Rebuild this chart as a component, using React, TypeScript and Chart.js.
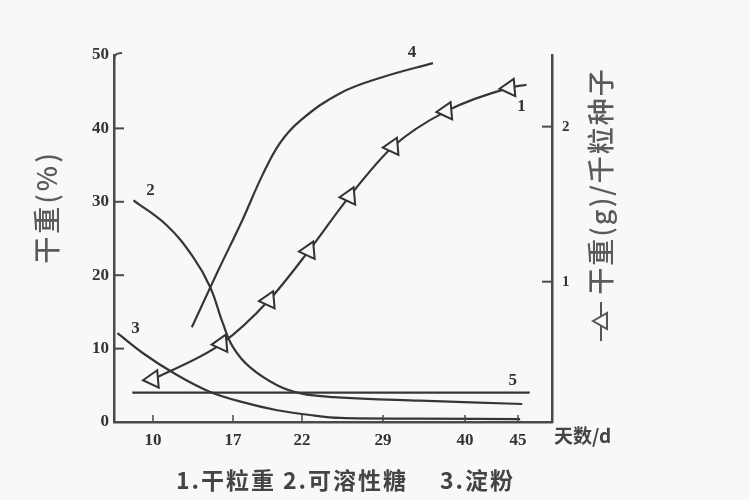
import React, { useEffect, useRef } from 'react';
import { Chart, registerables, LinearScale } from 'chart.js';

// ---- x axis (days) ----
const xTickDays = [10, 17, 22, 29, 40, 45];
const xTickLabels = ['10', '17', '22', '29', '40', '45'];
// the printed axis is not evenly spaced: day breakpoints and their share of the axis length
const axisDays = [6.6, 10, 17, 22, 29, 40, 45, 48.2];
const axisShare = [0, 0.089, 0.2717, 0.4292, 0.6142, 0.8014, 0.9224, 1];

// ---- left axis (%) ----
const leftTicks = [0, 10, 20, 30, 40, 50];
// ---- right axis (g / 1000 seeds) ----
const rightTicks = [1, 2];

// 1. 干粒重 (right axis)
const seedDays = [10, 16.0, 19.6, 22.6, 26.1, 30.3, 37.5, 44.2, 45.8];
const seedWeight = [0.37, 0.6, 0.88, 1.2, 1.55, 1.87, 2.1, 2.25, 2.27];
const seedMarker = [1, 1, 1, 1, 1, 1, 1, 1, 0];

// 2. 可溶性糖 (left axis)
const sugarDays = [8.3, 11.2, 13.5, 15.0, 16.1, 17.0, 18.2, 20.2, 21.9, 24.7, 34.0, 45.4];
const sugarValues = [30.2, 26.8, 22.5, 18.4, 13.5, 10.2, 7.5, 5.0, 3.9, 3.4, 2.9, 2.45];

// 3. 淀粉 (left axis)
const starchDays = [6.9, 9.1, 12.1, 15.0, 17.7, 20.2, 22.7, 25.3, 33.0, 45.2];
const starchValues = [12.1, 9.4, 6.4, 4.1, 2.7, 1.6, 0.95, 0.55, 0.45, 0.4];

// 4. (left axis)
const curve4Days = [13.4, 15.6, 17.7, 19.1, 20.4, 21.9, 25.3, 29.0, 35.7];
const curve4Values = [12.9, 20.3, 27.6, 33.5, 38.0, 41.1, 44.8, 47.0, 48.9];

// 5. (left axis)
const curve5Days = [8.2, 46.1];
const curve5Values = [4.0, 4.0];

const captionParts = ['1.干粒重', '2.可溶性糖', '3.淀粉'];

const BG = '#f8f8f6';
const INK = '#363636';
const AXIS = '#4a4a4a';
const TEXT = '#333';

class SegmentScale extends LinearScale {
  static id = 'segment';
  static defaults = LinearScale.defaults;

  buildTicks() {
    this.start = this.min;
    this.end = this.max;
    return xTickDays.map((v) => ({ value: v }));
  }

  dayToShare(v: number) {
    const n = axisDays.length;
    if (v <= axisDays[0]) {
      const k = (axisShare[1] - axisShare[0]) / (axisDays[1] - axisDays[0]);
      return axisShare[0] + (v - axisDays[0]) * k;
    }
    for (let i = 0; i < n - 1; i++) {
      if (v <= axisDays[i + 1]) {
        const t = (v - axisDays[i]) / (axisDays[i + 1] - axisDays[i]);
        return axisShare[i] + t * (axisShare[i + 1] - axisShare[i]);
      }
    }
    const k = (axisShare[n - 1] - axisShare[n - 2]) / (axisDays[n - 1] - axisDays[n - 2]);
    return axisShare[n - 1] + (v - axisDays[n - 1]) * k;
  }

  getPixelForValue(value: number) {
    return this.getPixelForDecimal(this.dayToShare(value));
  }

  getValueForPixel(pixel: number) {
    const d = this.getDecimalForPixel(pixel);
    for (let i = 0; i < axisShare.length - 1; i++) {
      if (d <= axisShare[i + 1]) {
        const t = (d - axisShare[i]) / (axisShare[i + 1] - axisShare[i]);
        return axisDays[i] + t * (axisDays[i + 1] - axisDays[i]);
      }
    }
    return axisDays[axisDays.length - 1];
  }
}

Chart.register(...registerables, SegmentScale);

const toPoints = (xs: number[], ys: number[]) => xs.map((x, i) => ({ x, y: ys[i] }));

function drawLine(ctx: CanvasRenderingContext2D, x1: number, y1: number, x2: number, y2: number) {
  ctx.beginPath();
  ctx.moveTo(x1, y1);
  ctx.lineTo(x2, y2);
  ctx.stroke();
}

const decor = {
  id: 'decor',
  beforeDraw(chart: any) {
    const { ctx, width, height } = chart;
    ctx.save();
    ctx.fillStyle = BG;
    ctx.fillRect(0, 0, width, height);
    ctx.restore();
  },
  afterDraw(chart: any) {
    const { ctx, chartArea, scales } = chart;
    const { x, y, y1 } = scales;
    ctx.save();
    ctx.strokeStyle = AXIS;
    ctx.lineWidth = 2;
    // inward tick marks
    leftTicks.forEach((v) => {
      if (v <= 0 || v >= 50) return;
      const py = y.getPixelForValue(v);
      drawLine(ctx, chartArea.left, py, chartArea.left + 10, py);
    });
    rightTicks.forEach((v) => {
      const py = y1.getPixelForValue(v);
      drawLine(ctx, chartArea.right, py, chartArea.right - 10, py);
    });
    ctx.lineWidth = 1.5;
    xTickDays.forEach((v) => {
      const px = x.getPixelForValue(v);
      drawLine(ctx, px, chartArea.bottom, px, chartArea.bottom - 7);
    });
    // little hook at top of left axis
    ctx.lineWidth = 2;
    ctx.beginPath();
    ctx.moveTo(chartArea.left, chartArea.top + 4);
    ctx.quadraticCurveTo(chartArea.left, chartArea.top - 2, chartArea.left + 8, chartArea.top - 2);
    ctx.stroke();

    // curve number labels, anchored on the data
    const pt = (ds: number, idx: number) => chart.getDatasetMeta(ds).data[idx];
    ctx.fillStyle = TEXT;
    ctx.font = 'bold 17px "Liberation Serif"';
    ctx.textAlign = 'center';
    ctx.textBaseline = 'middle';
    const p1 = pt(0, seedDays.length - 2);
    ctx.fillText('1', p1.x + 12, p1.y + 19);
    const p2 = pt(1, 0);
    ctx.fillText('2', p2.x + 17, p2.y - 10);
    const p3 = pt(2, 0);
    ctx.fillText('3', p3.x + 18, p3.y - 5);
    const p4 = pt(3, curve4Days.length - 1);
    ctx.fillText('4', p4.x - 21, p4.y - 10);
    const p5 = pt(4, curve5Days.length - 1);
    ctx.fillText('5', p5.x - 17, p5.y - 12);

    // x unit
    ctx.textAlign = 'left';
    ctx.font = 'bold 19px "Noto Sans CJK SC"';
    ctx.fillStyle = '#444';
    ctx.fillText('天数/d', chartArea.right + 2, chartArea.bottom + 14);

    // caption
    ctx.font = 'bold 23px "Noto Sans CJK SC"';
    (ctx as any).letterSpacing = '2px';
    const capX = [176, 283, 440];
    captionParts.forEach((s, i) => ctx.fillText(s, capX[i], 480));

    // left title
    ctx.save();
    ctx.translate(47, 207);
    ctx.rotate(-Math.PI / 2);
    ctx.textAlign = 'center';
    ctx.font = '500 27px "Noto Sans CJK SC"';
    (ctx as any).letterSpacing = '3px';
    ctx.fillStyle = '#5a5a5a';
    ctx.fillText('干重(%)', 0, 0);
    ctx.restore();

    // right title
    ctx.save();
    ctx.translate(601, 181);
    ctx.rotate(-Math.PI / 2);
    ctx.textAlign = 'center';
    ctx.font = '500 27px "Noto Sans CJK SC"';
    (ctx as any).letterSpacing = '2px';
    ctx.fillStyle = '#5a5a5a';
    ctx.fillText('干重(g)/千粒种子', 0, 0);
    ctx.restore();
    // legend symbol —△— (rotated)
    ctx.strokeStyle = '#555';
    ctx.lineWidth = 2;
    drawLine(ctx, 601, 302, 601, 341);
    ctx.fillStyle = BG;
    ctx.beginPath();
    ctx.moveTo(593, 321);
    ctx.lineTo(607, 313);
    ctx.lineTo(607, 329);
    ctx.closePath();
    ctx.fill();
    ctx.stroke();
    ctx.restore();
  },
};

export default function App() {
  const ref = useRef<HTMLCanvasElement | null>(null);
  useEffect(() => {
    if (!ref.current) return;
    const tickFont = { family: '"Liberation Serif"', size: 17, weight: 'bold' as const };
    const chart = new Chart(ref.current, {
      type: 'line',
      data: {
        datasets: [
          {
            label: '干粒重',
            data: toPoints(seedDays, seedWeight),
            yAxisID: 'y1',
            borderColor: INK,
            borderWidth: 2.2,
            cubicInterpolationMode: 'monotone',
            pointStyle: 'triangle',
            pointRadius: seedMarker.map((m) => m * 10),
            pointRotation: 25,
            pointBackgroundColor: BG,
            pointBorderColor: '#333',
            pointBorderWidth: 2,
          },
          {
            label: '可溶性糖',
            data: toPoints(sugarDays, sugarValues),
            yAxisID: 'y',
            borderColor: INK,
            borderWidth: 2.2,
            tension: 0.4,
            pointRadius: 0,
          },
          {
            label: '淀粉',
            data: toPoints(starchDays, starchValues),
            yAxisID: 'y',
            borderColor: INK,
            borderWidth: 2.2,
            cubicInterpolationMode: 'monotone',
            pointRadius: 0,
          },
          {
            label: '4',
            data: toPoints(curve4Days, curve4Values),
            yAxisID: 'y',
            borderColor: INK,
            borderWidth: 2.2,
            tension: 0.4,
            pointRadius: 0,
          },
          {
            label: '5',
            data: toPoints(curve5Days, curve5Values),
            yAxisID: 'y',
            borderColor: INK,
            borderWidth: 2.4,
            pointRadius: 0,
          },
        ],
      },
      options: {
        responsive: false,
        animation: false,
        layout: { padding: { top: 55, left: 0, right: 0, bottom: 0 } },
        plugins: { legend: { display: false }, tooltip: { enabled: false } },
        scales: {
          x: {
            type: 'segment' as any,
            position: 'bottom',
            min: axisDays[0],
            max: axisDays[axisDays.length - 1],
            grid: { display: false, drawTicks: false },
            border: { display: true, color: AXIS, width: 2.5 },
            ticks: {
              autoSkip: false,
              maxRotation: 0,
              padding: 8,
              color: TEXT,
              font: tickFont,
              callback: (_v: any, i: number) => xTickLabels[i],
            },
            afterFit: (s: any) => {
              s.height = 78;
            },
          },
          y: {
            position: 'left',
            min: leftTicks[0],
            max: leftTicks[leftTicks.length - 1],
            grid: { display: false, drawTicks: false },
            border: { display: true, color: AXIS, width: 2.5 },
            afterBuildTicks: (s: any) => {
              s.ticks = leftTicks.map((v) => ({ value: v }));
            },
            ticks: { padding: 5, color: TEXT, font: tickFont },
            afterFit: (s: any) => {
              s.width = 114;
            },
          },
          y1: {
            position: 'right',
            min: 0.095,
            max: 2.462,
            grid: { display: false, drawTicks: false },
            border: { display: true, color: AXIS, width: 2.5 },
            afterBuildTicks: (s: any) => {
              s.ticks = rightTicks.map((v) => ({ value: v }));
            },
            ticks: { padding: 10, color: TEXT, font: { family: '"Liberation Serif"', size: 15, weight: 'bold' } },
            afterFit: (s: any) => {
              s.width = 198;
            },
          },
        },
      },
      plugins: [decor],
    });
    return () => chart.destroy();
  }, []);
  return (
    <div style={{ position: 'absolute', left: 0, top: 0, width: 750, height: 500 }}>
      <canvas ref={ref} width={750} height={500} style={{ display: 'block' }} />
    </div>
  );
}
